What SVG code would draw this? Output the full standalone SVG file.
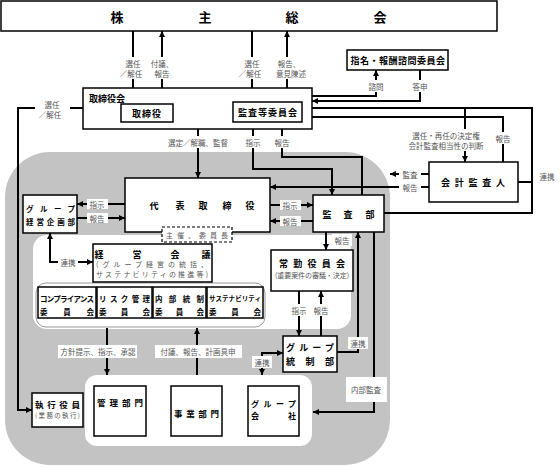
<svg xmlns="http://www.w3.org/2000/svg" width="560" height="467" viewBox="0 0 560 467">
<defs>
<marker id="ah" viewBox="0 0 10 10" refX="10" refY="5" markerWidth="6" markerHeight="6" markerUnits="userSpaceOnUse" orient="auto-start-reverse"><path d="M0,0 L10,5 L0,10 z" fill="#000"/></marker>
<style>
text{font-family:"Noto Sans CJK JP","Noto Sans CJK SC",sans-serif;dominant-baseline:central}
.box{fill:#fff;stroke:#000;stroke-width:1.5}
.n{font-size:9px;font-weight:bold;fill:#000;text-anchor:middle}
.ns{font-size:7.5px;font-weight:bold;fill:#000}
.l{font-size:7.5px;fill:#555;text-anchor:middle}
.g{font-size:7px;fill:#555}
.c{fill:none;stroke:#000;stroke-width:2}
.a{marker-end:url(#ah)}
.b{marker-start:url(#ah)}
.lb{fill:#fff}
</style>
</defs>
<rect width="560" height="467" fill="#fff"/>
<g id="areas">
<rect x="5" y="152" width="385" height="313" rx="45" fill="#c3c3c3"/>
<rect x="33" y="235" width="318" height="94" rx="14" fill="#fff"/>
<rect x="36" y="283" width="229" height="44" rx="10" fill="none" stroke="#999" stroke-width="1"/>
<rect x="85" y="375" width="227" height="71" rx="12" fill="#fff"/>
</g>
<g id="connectors">
<path class="c a" d="M133,31 V104"/>
<path class="c a" d="M162,104 V31"/>
<path class="c a" d="M252,31 V102"/>
<path class="c a" d="M287,102 V31"/>
<path class="c a" d="M312,96 H376 V70"/>
<path class="c a" d="M420,70 V101 H312"/>
<path class="c" d="M302,108 H532 V213 H384"/>
<path class="c" d="M518,182 H532"/>
<path class="c a" d="M465,108 V162"/>
<path class="c a" d="M503,162 V117 H302"/>
<path class="c a" d="M429,174 H390"/>
<path class="c a" d="M429,187 H270"/>
<path class="c a" d="M83,108 H18 V410 H32"/>
<path class="c a" d="M221,113 H181"/>
<path class="c a" d="M198,129 V178"/>
<path class="c a" d="M253,122 V169 H332 V195"/>
<path class="c a" d="M362,195 V157 H282 V122"/>
<path class="c a" d="M125,204 H77"/>
<path class="c a" d="M77,218 H125"/>
<path class="c a" d="M270,205 H313"/>
<path class="c a" d="M313,221 H270"/>
<path class="c a b" d="M93,262 H50 V233"/>
<path class="c a" d="M326,232 V250"/>
<path class="c a" d="M299,291 V336"/>
<path class="c a" d="M321,336 V291"/>
<path class="c a" d="M337,352 H358 V232"/>
<path class="c a" d="M374,232 V412 H313"/>
<path class="c a b" d="M283,353 H262 V375"/>
<path class="c a" d="M107,328 V375"/>
<path class="c a" d="M197,375 V328"/>
</g>
<g id="labels">
<rect class="lb" x="120" y="57" width="26" height="22"/>
<text class="l" x="133" y="63">選任</text><text class="l" x="131" y="73">／解任</text>
<rect class="lb" x="150" y="57" width="24" height="22"/>
<text class="l" x="162" y="63">付議、</text><text class="l" x="162" y="73">報告</text>
<rect class="lb" x="239" y="57" width="26" height="22"/>
<text class="l" x="252" y="63">選任</text><text class="l" x="250" y="73">／解任</text>
<rect class="lb" x="275" y="57" width="32" height="22"/>
<text class="l" x="289" y="63">報告、</text><text class="l" x="291" y="73">意見陳述</text>
<rect class="lb" x="366" y="80" width="20" height="12"/>
<text class="l" x="376" y="86">諮問</text>
<rect class="lb" x="410" y="80" width="20" height="12"/>
<text class="l" x="420" y="86">答申</text>
<rect class="lb" x="35" y="98" width="35" height="21"/>
<text class="l" x="52" y="104">選任</text><text class="l" x="50" y="114">／解任</text>
<text class="l" x="205" y="106">監査・監督</text>
<rect class="lb" x="166" y="136" width="64" height="12"/>
<text class="l" x="198" y="142">選定／解職、監督</text>
<rect class="lb" x="244" y="136" width="18" height="12"/>
<text class="l" x="253" y="142">指示</text>
<rect class="lb" x="273" y="136" width="18" height="12"/>
<text class="l" x="282" y="142">報告</text>
<rect class="lb" x="405" y="129" width="82" height="22"/>
<text class="l" x="446" y="135">選任・再任の決定権</text><text class="l" x="446" y="145">会計監査相当性の判断</text>
<rect class="lb" x="494" y="132" width="18" height="12"/>
<text class="l" x="503" y="138">報告</text>
<text class="l" x="547" y="176">連携</text>
<rect class="lb" x="399" y="169" width="22" height="10"/>
<text class="l" x="410" y="174">監査</text>
<rect class="lb" x="399" y="182" width="22" height="10"/>
<text class="l" x="410" y="187">報告</text>
<rect class="lb" x="87" y="199" width="21" height="10"/>
<text class="l" x="97" y="204">指示</text>
<rect class="lb" x="87" y="213" width="21" height="10"/>
<text class="l" x="97" y="218">報告</text>
<rect class="lb" x="280" y="200" width="21" height="10"/>
<text class="l" x="290" y="205">指示</text>
<rect class="lb" x="280" y="216" width="21" height="10"/>
<text class="l" x="290" y="221">報告</text>
<rect class="lb" x="58" y="257" width="20" height="10"/>
<text class="l" x="68" y="262">連携</text>
<rect class="lb" x="332" y="234" width="20" height="12"/>
<text class="l" x="342" y="240">報告</text>
<rect class="lb" x="290" y="304" width="18" height="12"/>
<text class="l" x="299" y="310">指示</text>
<rect class="lb" x="312" y="304" width="18" height="12"/>
<text class="l" x="321" y="310">報告</text>
<rect class="lb" x="348" y="337" width="20" height="12"/>
<text class="l" x="358" y="343">連携</text>
<rect class="lb" x="346" y="377" width="41" height="25"/>
<text class="l" x="366" y="389">内部監査</text>
<rect class="lb" x="252" y="356" width="20" height="12"/>
<text class="l" x="262" y="362">連携</text>
<rect class="lb" x="58" y="345" width="79" height="13"/>
<text class="l" x="98" y="351">方針提示、指示、承認</text>
<rect class="lb" x="155" y="345" width="87" height="13"/>
<text class="l" x="198" y="351">付議、報告、計画具申</text>
</g>
<g id="n-kabunushi">
<rect class="box" x="1" y="1" width="496" height="30"/>
<text class="n" style="font-size:13px" x="117 205 292 380" y="16">株主総会</text>
</g>
<g id="n-torishimariyakukai">
<rect class="box" x="83" y="88" width="229" height="41"/>
<text class="ns" style="font-size:9px" x="89" y="98">取締役会</text>
</g>
<g id="n-torishimariyaku">
<rect class="box" x="121" y="104" width="52" height="18"/>
<text class="n" x="147" y="113" letter-spacing="1">取締役</text>
</g>
<g id="n-kansatou">
<rect class="box" x="233" y="102" width="69" height="20"/>
<text class="n" x="268" y="112" letter-spacing="1">監査等委員会</text>
</g>
<g id="n-shimei">
<rect class="box" x="347" y="50" width="101" height="20"/>
<text class="n" x="398" y="60" letter-spacing="0.5">指名・報酬諮問委員会</text>
</g>
<g id="n-kaikei">
<rect class="box" x="429" y="162" width="89" height="40"/>
<text class="ns" style="font-size:9px" x="441" y="182" textLength="64" lengthAdjust="spacing">会計監査人</text>
</g>
<g id="n-daihyo">
<rect class="box" x="125" y="178" width="145" height="54"/>
<text class="n" x="154 180 203 227 250" y="205">代表取締役</text>
</g>
<g id="n-shusai">
<rect x="162" y="227" width="70" height="15" fill="#fff" stroke="#000" stroke-width="1.2" stroke-dasharray="3,2"/>
<text class="g" x="166" y="235" textLength="62" lengthAdjust="spacing">主催、委員長</text>
</g>
<g id="n-kikaku">
<rect class="box" x="23" y="195" width="54" height="38"/>
<text class="ns" x="26" y="208" textLength="49" lengthAdjust="spacing">グループ</text>
<text class="ns" x="26" y="221" textLength="49" lengthAdjust="spacing">経営企画部</text>
</g>
<g id="n-kansabu">
<rect class="box" x="313" y="195" width="71" height="37"/>
<text class="n" x="327 348 370" y="214">監査部</text>
</g>
<g id="n-keiei">
<rect class="box" x="93" y="244" width="119" height="38"/>
<text class="n" x="99 137 175 206" y="254">経営会議</text>
<text class="g" x="96" y="264" textLength="112" lengthAdjust="spacing">(グループ経営の統括、</text>
<text class="g" x="96" y="274" textLength="112" lengthAdjust="spacing">サステナビリティの推進等)</text>
</g>
<g id="n-joukin">
<rect class="box" x="271" y="250" width="82" height="41"/>
<text class="ns" style="font-size:9px" x="279" y="263" textLength="66" lengthAdjust="spacing">常勤役員会</text>
<text class="g" x="275" y="275" textLength="74" lengthAdjust="spacing">(重要案件の審議・決定)</text>
</g>
<g id="n-compliance">
<rect class="box" x="38" y="287" width="58" height="31"/>
<text class="ns" x="40" y="298" textLength="54" lengthAdjust="spacing">コンプライアンス</text>
<text class="ns" x="40" y="311" textLength="54" lengthAdjust="spacing">委員会</text>
</g>
<g id="n-risk">
<rect class="box" x="97" y="287" width="55" height="31"/>
<text class="ns" x="99" y="298" textLength="51" lengthAdjust="spacing">リスク管理</text>
<text class="ns" x="99" y="311" textLength="51" lengthAdjust="spacing">委員会</text>
</g>
<g id="n-naibu">
<rect class="box" x="153" y="287" width="53" height="31"/>
<text class="ns" x="155" y="298" textLength="49" lengthAdjust="spacing">内部統制</text>
<text class="ns" x="155" y="311" textLength="49" lengthAdjust="spacing">委員会</text>
</g>
<g id="n-sustain">
<rect class="box" x="207" y="287" width="56" height="31"/>
<text class="ns" style="font-size:6.5px" x="209" y="298" textLength="52" lengthAdjust="spacing">サステナビリティ</text>
<text class="ns" x="209" y="311" textLength="52" lengthAdjust="spacing">委員会</text>
</g>
<g id="n-tousei">
<rect class="box" x="283" y="336" width="54" height="36"/>
<text class="ns" style="font-size:9px" x="286" y="347" textLength="48" lengthAdjust="spacing">グループ</text>
<text class="ns" style="font-size:9px" x="286" y="361" textLength="48" lengthAdjust="spacing">統制部</text>
</g>
<g id="n-shikkou">
<rect class="box" x="32" y="393" width="51" height="34"/>
<text class="ns" style="font-size:8.5px" x="35" y="404" textLength="45" lengthAdjust="spacing">執行役員</text>
<text class="g" style="font-size:6.5px" x="35" y="415" textLength="45" lengthAdjust="spacing">(業務の執行)</text>
</g>
<g id="n-kanri">
<rect class="box" x="94" y="386" width="52" height="50"/>
<text class="ns" style="font-size:8.5px" x="97" y="402" textLength="46" lengthAdjust="spacing">管理部門</text>
</g>
<g id="n-jigyou">
<rect class="box" x="171" y="386" width="51" height="50"/>
<text class="ns" style="font-size:8.5px" x="174" y="413" textLength="45" lengthAdjust="spacing">事業部門</text>
</g>
<g id="n-groupco">
<rect class="box" x="248" y="386" width="51" height="50"/>
<text class="ns" style="font-size:8px" x="251" y="403" textLength="45" lengthAdjust="spacing">グループ</text>
<text class="ns" style="font-size:8px" x="251" y="415" textLength="45" lengthAdjust="spacing">会社</text>
</g>
</svg>
